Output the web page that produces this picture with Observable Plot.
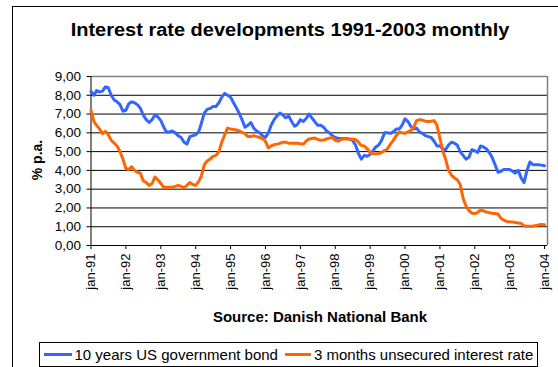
<!DOCTYPE html>
<html>
<head>
<meta charset="utf-8">
<script src="https://cdn.jsdelivr.net/npm/d3@7"></script>
<script src="https://cdn.jsdelivr.net/npm/@observablehq/plot@0.6"></script>
<style>
  html, body { margin: 0; padding: 0; background: #fff; }
  body { width: 558px; height: 367px; position: relative; overflow: hidden;
         font-family: "Liberation Sans", Arial, sans-serif; color: #000; }
  .frame { position: absolute; left: 12px; top: 6px; width: 620px; height: 420px;
           border-left: 1px solid #000; border-top: 1px solid #000; }
  .title { position: absolute; left: 0; width: 580px; top: 20.5px; text-align: center;
           font-weight: bold; font-size: 18px; line-height: 1; transform: scaleX(1.11); }
  .ylabel { position: absolute; left: 37px; top: 160px; font-weight: bold; font-size: 14px;
            line-height: 1; transform: translate(-50%, -50%) rotate(-90deg); white-space: nowrap; }
  .source { position: absolute; left: 120px; width: 400px; top: 309px; text-align: center;
            font-weight: bold; font-size: 15px; line-height: 1; }
  .legend { position: absolute; left: 38.5px; top: 342px; width: 499px; height: 25px;
            border: 1px solid #000; box-sizing: border-box; display: flex; align-items: center;
            font-size: 15px; white-space: nowrap; }
  .swatch { display: inline-block; height: 3px; }
  #chart { position: absolute; left: 0; top: 0; }
</style>
</head>
<body>
<div class="frame"></div>
<div class="title">Interest rate developments 1991-2003 monthly</div>
<div class="ylabel">% p.a.</div>
<div id="chart"></div>
<div class="source">Source: Danish National Bank</div>
<div class="legend" id="legend"></div>
<script>
// Monthly series, January 1991 to January 2004 (percent per annum)
const seriesNames = ["10 years US government bond", "3 months unsecured interest rate"];
const seriesColors = ["#3366ff", "#ff6600"];

const bond10y = [
  8.20, 8.00, 8.25, 8.18, 8.22, 8.45, 8.40, 8.00, 7.75, 7.65, 7.50, 7.15, // 1991
  7.20, 7.55, 7.65, 7.60, 7.50, 7.30, 6.95, 6.70, 6.55, 6.70, 6.95, 6.85, // 1992
  6.65, 6.30, 6.05, 6.05, 6.10, 6.00, 5.85, 5.75, 5.50, 5.40, 5.80, 5.85, // 1993
  5.90, 6.05, 6.50, 7.05, 7.25, 7.30, 7.40, 7.40, 7.60, 7.90, 8.10, 8.00, // 1994
  7.90, 7.60, 7.35, 7.05, 6.70, 6.30, 6.40, 6.55, 6.25, 6.10, 6.00, 5.85, // 1995
  5.75, 6.00, 6.40, 6.70, 6.90, 7.05, 6.95, 6.80, 6.90, 6.60, 6.35, 6.45, // 1996
  6.70, 6.60, 6.75, 7.00, 6.80, 6.60, 6.40, 6.40, 6.30, 6.10, 6.00, 5.85, // 1997
  5.75, 5.70, 5.70, 5.70, 5.70, 5.65, 5.60, 5.35, 4.90, 4.60, 4.80, 4.75, // 1998
  4.85, 5.05, 5.25, 5.35, 5.60, 6.00, 6.00, 5.97, 6.05, 6.20, 6.20, 6.40, // 1999
  6.75, 6.60, 6.35, 6.20, 6.25, 6.05, 5.97, 5.85, 5.80, 5.75, 5.55, 5.30, // 2000
  5.30, 5.15, 5.10, 5.35, 5.50, 5.45, 5.35, 5.00, 4.80, 4.60, 4.70, 5.10, // 2001
  5.05, 4.95, 5.30, 5.25, 5.15, 4.95, 4.70, 4.30, 3.90, 3.95, 4.05, 4.05, // 2002
  4.05, 3.95, 3.85, 4.00, 3.60, 3.35, 4.00, 4.45, 4.30, 4.30, 4.30, 4.28, // 2003
  4.25                                                                    // 2004
];

const unsecured3m = [
  7.20, 6.60, 6.40, 6.20, 5.95, 6.08, 5.90, 5.60, 5.45, 5.30, 5.00, 4.60, // 1991
  4.10, 4.05, 4.20, 4.00, 3.90, 3.85, 3.45, 3.35, 3.20, 3.30, 3.65, 3.50, // 1992
  3.30, 3.10, 3.10, 3.10, 3.10, 3.15, 3.20, 3.15, 3.08, 3.20, 3.35, 3.25, // 1993
  3.20, 3.40, 3.70, 4.30, 4.50, 4.60, 4.75, 4.80, 5.00, 5.50, 5.90, 6.25, // 1994
  6.20, 6.18, 6.15, 6.10, 6.03, 5.95, 5.80, 5.80, 5.85, 5.80, 5.75, 5.70, // 1995
  5.55, 5.20, 5.30, 5.37, 5.40, 5.44, 5.50, 5.50, 5.45, 5.44, 5.45, 5.45, // 1996
  5.42, 5.40, 5.55, 5.67, 5.70, 5.72, 5.65, 5.60, 5.62, 5.67, 5.72, 5.76, // 1997
  5.60, 5.55, 5.65, 5.68, 5.67, 5.67, 5.66, 5.64, 5.50, 5.32, 5.30, 5.15, // 1998
  4.95, 4.90, 4.88, 4.90, 4.96, 5.05, 5.14, 5.40, 5.60, 5.85, 6.03, 6.00, // 1999
  5.97, 6.05, 6.12, 6.29, 6.65, 6.70, 6.68, 6.62, 6.60, 6.62, 6.65, 6.40, // 2000
  5.70, 5.00, 4.60, 4.00, 3.75, 3.60, 3.50, 3.25, 2.50, 2.10, 1.85, 1.72, // 2001
  1.70, 1.77, 1.88, 1.85, 1.78, 1.75, 1.72, 1.70, 1.68, 1.45, 1.35, 1.28, // 2002
  1.26, 1.25, 1.22, 1.20, 1.18, 1.05, 1.02, 1.03, 1.03, 1.06, 1.10, 1.12, // 2003
  1.10                                                                    // 2004
];

const yTicks = [0, 1, 2, 3, 4, 5, 6, 7, 8, 9];
const tickYears = d3.range(1991, 2005);

const month = i => new Date(Date.UTC(1991, i, 1));
const rows = [];
[bond10y, unsecured3m].forEach((values, s) => {
  values.forEach((v, i) => rows.push({date: month(i), value: v, series: seriesNames[s]}));
});

const xStart = month(0);
const xEnd = new Date(Date.UTC(2004, 1, 1));
const tickDates = tickYears.map(y => new Date(Date.UTC(y, 0, 1)));
const fmtY = v => v.toFixed(2).replace(".", ",");
const fmtX = d => "jan-" + String(d.getUTCFullYear()).slice(2);

const chart = Plot.plot({
  width: 558,
  height: 300,
  marginLeft: 90.5,
  marginRight: 11,
  marginTop: 76,
  marginBottom: 55,
  style: {fontFamily: "'Liberation Sans', Arial, sans-serif", background: "transparent", color: "#000"},
  x: {type: "utc", domain: [xStart, xEnd]},
  y: {domain: [0, 9]},
  color: {domain: seriesNames, range: seriesColors},
  marks: [
    Plot.ruleY(yTicks.filter(v => v > 0 && v < 9), {stroke: "#000", strokeWidth: 1}),
    Plot.ruleY([9], {stroke: "#808080", strokeWidth: 1.5}),
    Plot.ruleX([xEnd], {stroke: "#808080", strokeWidth: 1.5}),
    Plot.axisY({ticks: yTicks, tickFormat: fmtY, tickSize: 4, tickPadding: 6, label: null, fontSize: 13.5}),
    Plot.axisX({ticks: tickDates, tickFormat: fmtX, tickSize: 4, tickPadding: 4, tickRotate: -90, label: null, fontSize: 13}),
    Plot.ruleY([0], {stroke: "#000"}),
    Plot.ruleX([xStart], {stroke: "#000"}),
    Plot.lineY(rows, {x: "date", y: "value", z: "series", stroke: "series", strokeWidth: 3, strokeLinejoin: "round"})
  ]
});
document.getElementById("chart").appendChild(chart);

// Legend row below the chart
const legend = document.getElementById("legend");
const swatchWidths = [28, 26];
seriesNames.forEach((name, i) => {
  const sw = document.createElement("span");
  sw.className = "swatch";
  sw.style.width = swatchWidths[i] + "px";
  sw.style.background = seriesColors[i];
  sw.style.marginLeft = i === 0 ? "4px" : "7px";
  sw.style.marginRight = "3px";
  const label = document.createElement("span");
  label.textContent = name;
  legend.appendChild(sw);
  legend.appendChild(label);
});
</script>
</body>
</html>
